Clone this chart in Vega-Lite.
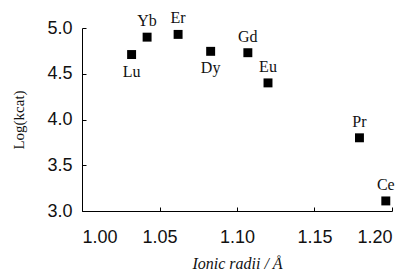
{
  "$schema": "https://vega.github.io/schema/vega-lite/v6.json",
  "width": 310,
  "height": 183,
  "autosize": {"type": "none"},
  "padding": {"left": 82, "top": 28, "right": 19, "bottom": 60},
  "background": "white",
  "config": {"view": {"stroke": null}},
  "data": {
    "values": [
      {"el": "Lu", "r": 1.032, "logk": 4.71},
      {"el": "Yb", "r": 1.042, "logk": 4.90},
      {"el": "Er", "r": 1.062, "logk": 4.93},
      {"el": "Dy", "r": 1.083, "logk": 4.745},
      {"el": "Gd", "r": 1.107, "logk": 4.73},
      {"el": "Eu", "r": 1.120, "logk": 4.40},
      {"el": "Pr", "r": 1.179, "logk": 3.80},
      {"el": "Ce", "r": 1.196, "logk": 3.11}
    ]
  },
  "encoding": {
    "x": {
      "field": "r", "type": "quantitative",
      "scale": {"domain": [1.0, 1.2], "nice": false, "zero": false},
      "axis": {
        "title": "Ionic radii / Å", "values": [1.0, 1.05, 1.1, 1.15, 1.2], "format": ".2f",
        "grid": false, "domainColor": "black", "tickColor": "black", "tickSize": -4,
        "labelPadding": 21, "labelFont": "Liberation Sans", "labelFontSize": 18, "labelColor": "#111",
        "titleFont": "Liberation Serif", "titleFontStyle": "italic", "titleFontWeight": "normal",
        "titleFontSize": 16, "titleColor": "#111", "titlePadding": 9
      }
    },
    "y": {
      "field": "logk", "type": "quantitative",
      "scale": {"domain": [3.0, 5.0], "nice": false, "zero": false},
      "axis": {
        "title": "Log(kcat)", "values": [3.0, 3.5, 4.0, 4.5, 5.0], "format": ".1f",
        "grid": false, "domainColor": "black", "tickColor": "black", "tickSize": -4,
        "labelPadding": 14, "labelFont": "Liberation Sans", "labelFontSize": 18, "labelColor": "#111",
        "titleFont": "Liberation Serif", "titleFontWeight": "normal", "titleFontSize": 15,
        "titleColor": "#111", "titlePadding": 20
      }
    }
  },
  "layer": [
    {"mark": {"type": "point", "shape": "square", "filled": true, "color": "black", "size": 80, "opacity": 1}},
    {
      "transform": [{"filter": {"field": "el", "oneOf": ["Yb", "Er", "Gd", "Eu", "Pr", "Ce"]}}],
      "mark": {"type": "text", "font": "Liberation Serif", "fontSize": 16, "dy": -16, "baseline": "middle", "color": "#111"},
      "encoding": {"text": {"field": "el"}}
    },
    {
      "transform": [{"filter": {"field": "el", "oneOf": ["Lu", "Dy"]}}],
      "mark": {"type": "text", "font": "Liberation Serif", "fontSize": 16, "dy": 17, "baseline": "middle", "color": "#111"},
      "encoding": {"text": {"field": "el"}}
    }
  ]
}
